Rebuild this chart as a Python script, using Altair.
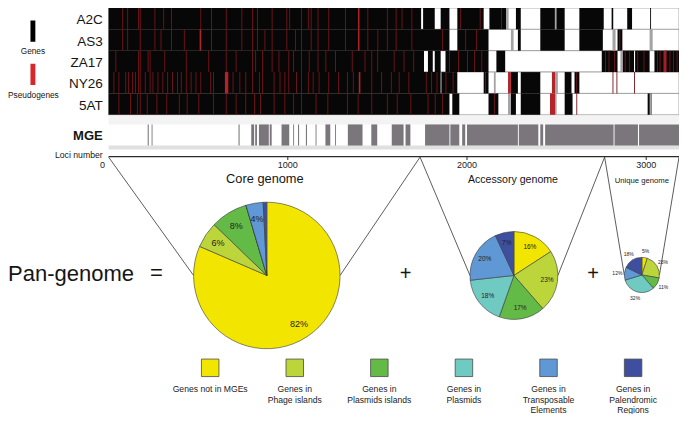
import math
import altair as alt
import pandas as pd

# ---------------- canvas / layout ----------------
W, H = 671, 406
RW, RH = 687.0, 422.0
SX, SY = W / RW, H / RH

# ---------------- data ----------------
genomes = ["A2C", "AS3", "ZA17", "NY26", "5AT"]
loci_max = 3183
loci_ticks = [0, 1000, 2000, 3000]
core_end = 1738
accessory_end = 2768

genes = {
    "A2C": [[0, 1744], [1755, 1820], [1853, 1902], [1946, 2093], [2125, 2218], [2273, 2300],
            [2409, 2545], [2627, 2763], [2807, 2816], [2894, 2921], [3022, 3027]],
    "AS3": [[0, 1902], [1946, 2120], [2284, 2300], [2409, 2545], [2627, 2758], [2840, 2867]],
    "ZA17": [[0, 1760], [1782, 1809], [1820, 1853], [1880, 2120], [2164, 2213], [2752, 2840],
             [2867, 2932], [2938, 3019], [3046, 3183]],
    "NY26": [[0, 1853], [1857, 1946], [2093, 2120], [2245, 2284], [2300, 2409], [2545, 2583],
             [2600, 2627]],
    "5AT": [[0, 1902], [1918, 1957], [2120, 2175], [2245, 2273], [2300, 2409], [2545, 2589],
            [3008, 3030]],
}
pseudo = {
    "A2C": [76, 104, 164, 174, 256, 305, 349, 512, 572, 654, 741, 801, 828, 910, 992, 1008, 1074,
            1112, 1128, 1166, 1226, 1319, 1444, 1553, 1602, 1635, 1690, 1962, 2071, 2190],
    "AS3": [76, 104, 174, 256, 290, 349, 420, 572, 654, 741, 801, 828, 870, 910, 992, 1040, 1074,
            1128, 1166, 1226, 1319, 1444, 1500, 1553, 1602, 1690, 1860, 1990, 2050, 2850],
    "ZA17": [38, 164, 174, 218, 229, 311, 431, 556, 654, 709, 801, 818, 856, 910, 948, 1003, 1030,
             1074, 1117, 1166, 1210, 1264, 1357, 1428, 1466, 1499, 1591, 1646, 1700, 1900, 1950,
             2000, 2040, 2080, 2770, 2790, 2820, 2880, 2905, 2950, 2985, 3060, 3075, 3095, 3110,
             3130, 3150, 3170],
    "NY26": [27, 55, 93, 109, 131, 147, 164, 174, 202, 229, 245, 273, 300, 327, 354, 382, 403, 431,
             458, 485, 512, 567, 583, 692, 730, 763, 801, 839, 856, 921, 954, 981, 1003, 1046, 1074,
             1112, 1139, 1172, 1226, 1281, 1330, 1363, 1466, 1521, 1575, 1619, 1673, 1770, 1800,
             1830, 1880, 1920, 2100, 2610, 2812, 2834, 2932],
    "5AT": [55, 120, 158, 174, 213, 267, 322, 392, 436, 501, 583, 654, 709, 763, 812, 845, 921, 981,
            1030, 1074, 1155, 1221, 1330, 1390, 1466, 1553, 1608, 1684, 1780, 1820, 1860, 2150, 2610],
}
pseudo_bright = {
    "A2C": [[1392, 1400]],
    "AS3": [[508, 516], [1392, 1400]],
    "ZA17": [[3100, 3110]],
    "NY26": [[649, 668], [1396, 1405], [2229, 2245], [2474, 2491]],
    "5AT": [[2463, 2491]],
}
partial = {
    "A2C": [[2218, 2232], [2490, 2500]],
    "AS3": [[2245, 2260], [2812, 2829], [3019, 3036]],
    "ZA17": [[2856, 2870]],
    "NY26": [[2491, 2507], [2150, 2160]],
    "5AT": [[2229, 2245], [2490, 2500], [3019, 3030]],
}
mge = [[218, 224], [240, 245], [725, 731], [796, 812], [818, 828], [839, 894], [899, 910],
       [965, 1008], [1030, 1035], [1057, 1063], [1101, 1107], [1155, 1160], [1210, 1237],
       [1264, 1269], [1335, 1417], [1466, 1499], [1580, 1646], [1657, 1684], [1766, 1902],
       [1907, 1957], [1973, 1990], [2000, 2284], [2289, 2398], [2409, 2425], [2436, 2818],
       [2823, 2954], [2960, 3183]]

categories = ["Genes not in MGEs", "Genes in Phage islands", "Genes in Plasmids islands",
              "Genes in Plasmids", "Genes in Transposable Elements", "Genes in Palendromic Regions"]
legend_labels = ["Genes not in MGEs", "Genes in\nPhage islands", "Genes in\nPlasmids islands",
                 "Genes in\nPlasmids", "Genes in\nTransposable\nElements",
                 "Genes in\nPalendromic\nRegions"]
colors = ["#f2e600", "#bcd53a", "#64ba47", "#6fcbc2", "#5f98d4", "#3f4fa0"]

core_pct = [81.5, 5.7, 8.2, 0, 3.8, 0.8]
core_lbl = ["82%", "6%", "8%", "", "4%", ""]
acc_pct = [16, 23, 17, 18, 20, 7]
acc_lbl = ["16%", "23%", "17%", "18%", "20%", "7%"]
uni_pct = [5, 23, 11, 32, 12, 18]
uni_lbl = ["5%", "23%", "11%", "32%", "12%", "18%"]

# ---------------- scales ----------------
PX = alt.Scale(domain=[0, RW], range=[0, W], nice=False, zero=False)
PY = alt.Scale(domain=[0, RH], range=[0, H], nice=False, zero=False)
LOCI = alt.Scale(domain=[0, loci_max], range=[103 * SX, RW * SX], nice=False, zero=False)
ROWS = alt.Scale(domain=genomes, range=[0, 111 * SY], paddingInner=0, paddingOuter=0)


def loci_px(v):
    return 103 + v * (RW - 103) / loci_max


def dx(v):
    return alt.X(datum=v, type="quantitative", scale=PX, axis=None)


def dy(v):
    return alt.Y(datum=v, type="quantitative", scale=PY, axis=None)


def label(s, x, y, size, align="center", weight="normal", color="#151515", baseline="middle"):
    return alt.Chart(alt.Data(values=[{"t": s}])).mark_text(
        align=align, baseline=baseline, fontSize=size, fontWeight=weight, color=color
    ).encode(text="t:N", x=dx(x), y=dy(y))


def box(x0, x1, y0, y1, color):
    return alt.Chart(alt.Data(values=[{"a": 1}])).mark_rect(color=color).encode(
        x=dx(x0), x2=alt.X2(datum=x1), y=dy(y0), y2=alt.Y2(datum=y1))


layers = []

# ---------------- heatmap ----------------
grid = alt.Chart(pd.DataFrame({"genome": genomes})).mark_rect(
    fill="white", stroke="#8c8c8c", strokeWidth=0.7
).encode(x=alt.X(datum=0, type="quantitative", scale=LOCI, axis=None),
         x2=alt.X2(datum=loci_max),
         y=alt.Y("genome:N", scale=ROWS, axis=None))
layers.append(grid)


def seg_df(d, width=None):
    rows = []
    for g in genomes:
        for item in d[g]:
            if width is None:
                s, e = item
            else:
                s, e = item, item + width
            rows.append({"genome": g, "start": s, "end": e})
    return pd.DataFrame(rows)


def seg_layer(df, color):
    return alt.Chart(df).mark_rect(color=color).encode(
        x=alt.X("start:Q", scale=LOCI, axis=None), x2="end:Q",
        y=alt.Y("genome:N", scale=ROWS, axis=None))


layers.append(seg_layer(seg_df(genes), "#070707"))
layers.append(seg_layer(seg_df(partial), "#a3a3a3"))
layers.append(seg_layer(seg_df(pseudo, 5), "#761518"))
layers.append(seg_layer(seg_df(pseudo_bright), "#b3232a"))

# ---------------- MGE row ----------------
layers.append(box(103, RW, 112, 121, "#f3f3f3"))
layers.append(box(103, RW, 143, 147, "#e0e0e0"))
mge_df = pd.DataFrame(mge, columns=["start", "end"])
layers.append(alt.Chart(mge_df).mark_rect(color="#7a767c").encode(
    x=alt.X("start:Q", scale=LOCI, axis=None), x2="end:Q", y=dy(121), y2=alt.Y2(datum=143)))

# ---------------- loci axis (drawn with the loci scale) ----------------
tick_df = pd.DataFrame({"loci": loci_ticks, "txt": [str(t) for t in loci_ticks]})
layers.append(alt.Chart(pd.DataFrame({"a": [0], "b": [loci_max]})).mark_rule(
    color="#2b2b2b", strokeWidth=1.3
).encode(x=alt.X("a:Q", scale=LOCI, axis=None), x2="b:Q", y=dy(154.5)))
layers.append(alt.Chart(tick_df).transform_filter("datum.loci > 0").mark_rule(
    color="#2b2b2b", strokeWidth=1
).encode(x=alt.X("loci:Q", scale=LOCI, axis=None), y=dy(154.5), y2=alt.Y2(datum=158)))
layers.append(alt.Chart(tick_df).transform_filter("datum.loci > 0").mark_text(
    fontSize=9, color="#222", baseline="middle"
).encode(x=alt.X("loci:Q", scale=LOCI, axis=None), y=dy(163.5), text="txt:N"))
layers.append(alt.Chart(tick_df).transform_filter("datum.loci == 0").mark_text(
    fontSize=9, color="#222", baseline="middle", dx=-6
).encode(x=alt.X("loci:Q", scale=LOCI, axis=None), y=dy(163.5), text="txt:N"))

# ---------------- left labels ----------------
layers.append(alt.Chart(pd.DataFrame({"genome": genomes})).mark_text(
    align="right", baseline="middle", fontSize=13.5, color="#151515", dy=1.5
).encode(x=dx(97), y=alt.Y("genome:N", scale=ROWS, axis=None), text="genome:N"))
layers.append(label("MGE", 97, 133, 13, align="right", weight="bold"))
layers.append(label("Loci number", 97, 153, 8.7, align="right"))
layers.append(box(23, 28, 13, 35, "#000000"))
layers.append(label("Genes", 25.5, 46, 8.3))
layers.append(box(23, 28, 58, 80, "#d8262c"))
layers.append(label("Pseudogenes", 26, 91, 8.3))

# ---------------- zoom lines ----------------
pies = [
    ("core", core_pct, core_lbl, 265, 278, 75, 0.8, 9.0),
    ("acc", acc_pct, acc_lbl, 518, 278, 45, 0.76, 6.5),
    ("uni", uni_pct, uni_lbl, 649, 277.5, 18, 1.4, 5.0),
]
bounds = [0, core_end, accessory_end, loci_max]
segs = []
for i, (_, _, _, cx, cy, r, _, _) in enumerate(pies):
    segs.append({"x1": loci_px(bounds[i]), "y1": 155, "x2": cx - r, "y2": cy})
    segs.append({"x1": loci_px(bounds[i + 1]), "y1": 155, "x2": cx + r, "y2": cy})
layers.append(alt.Chart(pd.DataFrame(segs)).mark_rule(color="#333333", strokeWidth=0.8).encode(
    x=alt.X("x1:Q", scale=PX, axis=None), y=alt.Y("y1:Q", scale=PY, axis=None),
    x2="x2:Q", y2="y2:Q"))

layers.append(label("Core genome", 263, 178, 12.8))
layers.append(label("Accessory genome", 517, 179, 10.6))
layers.append(label("Unique genome", 649, 180, 7.7))

# ---------------- pies ----------------
color_scale = alt.Scale(domain=categories, range=colors)
for name, vals, lbls, cx, cy, r, rho, fs in pies:
    df = pd.DataFrame({"cat": categories, "idx": list(range(6)), "value": vals, "lbl": lbls})
    layers.append(alt.Chart(df).mark_arc(
        outerRadius=r * SX, stroke="#3a3a3a", strokeWidth=0.6
    ).encode(
        theta=alt.Theta("value:Q", stack=True),
        order=alt.Order("idx:Q"),
        color=alt.Color("cat:N", scale=color_scale, legend=None),
        x=alt.value(cx * SX), y=alt.value(cy * SY)))
    layers.append(alt.Chart(df).transform_window(
        cum="sum(value)", sort=[alt.SortField("idx")], frame=[None, 0]
    ).transform_joinaggregate(total="sum(value)").transform_calculate(
        mid="2*PI*(datum.cum - datum.value/2)/datum.total"
    ).transform_calculate(
        lx=f"{cx} + {rho * r}*sin(datum.mid)", ly=f"{cy} - {rho * r}*cos(datum.mid)"
    ).transform_filter("datum.lbl != ''").mark_text(
        fontSize=fs, color="#222", baseline="middle"
    ).encode(x=alt.X("lx:Q", scale=PX, axis=None), y=alt.Y("ly:Q", scale=PY, axis=None),
             text="lbl:N"))

layers.append(label("Pan-genome", 0, 276, 22, align="left"))
layers.append(label("=", 152, 275, 22))
layers.append(label("+", 407, 277, 20))
layers.append(label("+", 599, 277, 20))

# ---------------- legend ----------------
leg_df = pd.DataFrame({"cat": categories, "lab": legend_labels})
LEGX = alt.Scale(type="point", domain=categories, range=[207 * SX, 640 * SX], padding=0)
layers.append(alt.Chart(leg_df).mark_square(
    size=(17.5) ** 2, filled=True, opacity=1, stroke="#4a4a4a", strokeWidth=0.8
).encode(x=alt.X("cat:N", scale=LEGX, axis=None), y=dy(374),
         color=alt.Color("cat:N", scale=color_scale, legend=None)))
layers.append(alt.Chart(leg_df).mark_text(
    fontSize=8.6, color="#222", baseline="top", lineBreak="\n", lineHeight=10.5
).encode(x=alt.X("cat:N", scale=LEGX, axis=None), y=dy(392), text="lab:N"))

chart = alt.layer(*layers).resolve_scale(
    x="independent", y="independent", color="independent", theta="independent"
).properties(
    width=W, height=H, padding=0, autosize=alt.AutoSizeParams(type="none"),
    view=alt.ViewBackground(stroke="transparent", strokeWidth=0, strokeOpacity=0)
).configure_view(stroke="transparent", strokeWidth=0, strokeOpacity=0).configure_axis(
    domain=False, ticks=False, labels=False, grid=False
).configure(font="Liberation Sans", background="white")

chart.save("out.html", embed_options={"renderer": "svg", "actions": False})
